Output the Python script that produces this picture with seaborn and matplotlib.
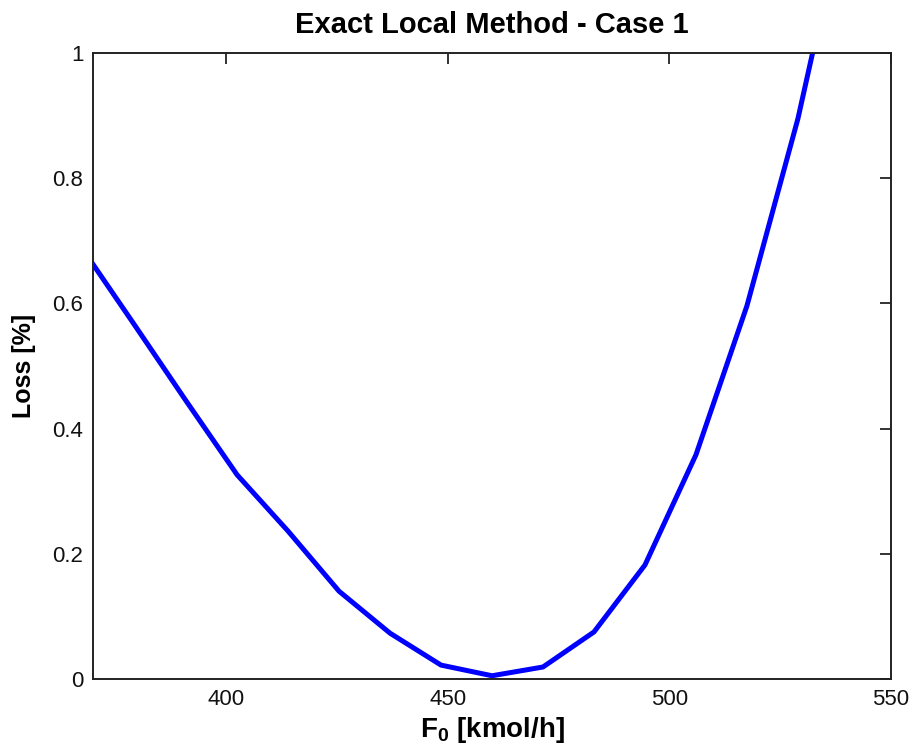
import matplotlib
matplotlib.use("Agg")
import matplotlib.pyplot as plt
import seaborn as sns
import pandas as pd
from matplotlib import font_manager

# Data
f0_values = [368.0, 379.5, 391.0, 402.5, 414.0, 425.5, 437.0, 448.5,
             460.0, 471.5, 483.0, 494.5, 506.0, 517.5, 529.0, 540.5]
loss_values = [0.683, 0.564, 0.444, 0.326, 0.236, 0.140, 0.073, 0.022,
               0.005, 0.019, 0.075, 0.182, 0.358, 0.596, 0.895, 1.26]
x_ticks = [400, 450, 500, 550]
y_ticks = [0, 0.2, 0.4, 0.6, 0.8, 1]
y_tick_labels = ["0", "0.2", "0.4", "0.6", "0.8", "1"]

sns.set_style("white")
plt.rcParams["font.family"] = ["Liberation Sans", "DejaVu Sans"]
plt.rcParams["mathtext.fontset"] = "custom"
plt.rcParams["mathtext.rm"] = "Liberation Sans:bold"
plt.rcParams["mathtext.bf"] = "Liberation Sans:bold"

names = {f.name for f in font_manager.fontManager.ttflist}
tick_family = "Liberation Sans Narrow" if "Liberation Sans Narrow" in names else "Liberation Sans"
tick_size = 18 if tick_family == "Liberation Sans Narrow" else 16

df = pd.DataFrame({"F0": f0_values, "Loss": loss_values})

fig = plt.figure(figsize=(9.12, 7.56), dpi=100)
ax = fig.add_axes([0.102, 0.102, 0.875, 0.828])

sns.lineplot(data=df, x="F0", y="Loss", ax=ax, color="#0000ff",
             linewidth=3.6, sort=False)

ax.set_xlim(370, 550)
ax.set_ylim(0, 1)
ax.set_xticks(x_ticks)
ax.set_xticklabels([str(t) for t in x_ticks])
ax.set_yticks(y_ticks)
ax.set_yticklabels(y_tick_labels)

ax.tick_params(direction="in", length=8, width=1.2, top=True, right=True,
               labelsize=tick_size, colors="#111111", pad=7)
for lab in ax.get_xticklabels() + ax.get_yticklabels():
    lab.set_family(tick_family)
for s in ax.spines.values():
    s.set_visible(True)
    s.set_linewidth(1.4)
    s.set_color("#222222")

ax.set_title("Exact Local Method - Case 1", fontsize=21, fontweight="bold",
             pad=14, color="black")
ax.set_xlabel(r"$\mathregular{F_0}$ [kmol/h]", fontsize=20, fontweight="bold",
              labelpad=4, color="black")
ax.set_ylabel("Loss [%]", fontsize=18, fontweight="bold", labelpad=12, color="black")

fig.savefig("out.png", dpi=100)
